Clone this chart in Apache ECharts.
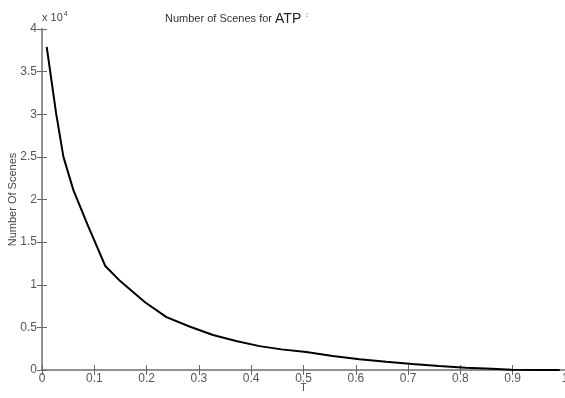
<!DOCTYPE html>
<html>
<head>
<meta charset="utf-8">
<script src="https://cdn.jsdelivr.net/npm/echarts@6/dist/echarts.min.js"></script>
<style>
  html, body { margin: 0; padding: 0; background: #fff; }
  #main { width: 565px; height: 398px; }
</style>
</head>
<body>
<div id="main"></div>
<script>
// T values and number of scenes
const tValues = [0.009, 0.027, 0.041, 0.06, 0.088, 0.10, 0.121, 0.15, 0.197, 0.238, 0.282,
  0.327, 0.371, 0.416, 0.458, 0.505, 0.556, 0.607, 0.658, 0.708, 0.759, 0.81, 0.86, 0.898, 0.955, 0.99];
const sceneCounts = [37900, 30100, 25000, 21100, 16900, 15200, 12200, 10400, 7950, 6200, 5100,
  4100, 3400, 2800, 2420, 2100, 1650, 1250, 970, 700, 470, 270, 150, 40, 0, 0];
const xTicks = [0, 0.1, 0.2, 0.3, 0.4, 0.5, 0.6, 0.7, 0.8, 0.9, 1];
const yTicks = [0, 0.5, 1, 1.5, 2, 2.5, 3, 3.5, 4];

const chart = echarts.init(document.getElementById('main'));
const font = 'Liberation Sans, Arial, sans-serif';
const axisGrey = '#8a8a8a';
const labelGrey = '#555';

const points = tValues.map((t, i) => [t, sceneCounts[i]]);

const baseX = {
  type: 'value', min: 0, max: 1, interval: 0.1,
  splitLine: { show: false },
  axisLine: { lineStyle: { color: axisGrey, width: 1.5 } },
  axisTick: { inside: true, length: 5, lineStyle: { color: '#666' } }
};
const baseY = {
  type: 'value', min: 0, max: 40000, interval: 5000,
  splitLine: { show: false },
  axisLine: { lineStyle: { color: axisGrey, width: 1.5 } },
  axisTick: { inside: true, length: 5, lineStyle: { color: '#666' } }
};

chart.setOption({
  animation: false,
  backgroundColor: '#fff',
  title: {
    text: 'Number of Scenes for {a|ATP}{c|  c}',
    left: 160, top: 7,
    textStyle: {
      fontFamily: font, fontSize: 11, fontWeight: 'normal', color: '#333',
      rich: {
        a: { fontFamily: font, fontSize: 14, color: '#222' },
        c: { fontFamily: font, fontSize: 7, color: '#bbb', verticalAlign: 'top' }
      }
    }
  },
  graphic: [{
    type: 'text', left: 42, top: 11,
    style: {
      text: 'x 10{s|4}', fontFamily: font, fontSize: 11, fill: '#444',
      rich: { s: { fontSize: 7, verticalAlign: 'top', padding: [0, 0, 7, 1] } }
    }
  }],
  grid: { left: 42, right: 0, top: 29, bottom: 28, containLabel: false, outerBoundsMode: 'none' },
  xAxis: [
    Object.assign({}, baseX, {
      position: 'bottom',
      name: 'T', nameLocation: 'middle', nameGap: 13, nameMoveOverlap: false,
      nameTextStyle: { fontFamily: font, fontSize: 10, color: '#444' },
      axisLabel: {
        fontFamily: font, fontSize: 12, color: labelGrey, margin: 3,
        formatter: v => {
          const s = xTicks.find(t => Math.abs(t - v) < 1e-6);
          return s === undefined ? '' : String(s);
        }
      }
    }),
    Object.assign({}, baseX, { position: 'top', axisLabel: { show: false } })
  ],
  yAxis: [
    Object.assign({}, baseY, {
      position: 'left',
      name: 'Number Of Scenes', nameLocation: 'middle', nameGap: 24, nameMoveOverlap: false,
      nameTextStyle: { fontFamily: font, fontSize: 11, color: '#444' },
      axisLabel: {
        fontFamily: font, fontSize: 12, color: labelGrey, margin: 5,
        formatter: v => {
          const s = yTicks.find(t => Math.abs(t * 10000 - v) < 1e-6);
          return s === undefined ? '' : String(s);
        }
      }
    }),
    Object.assign({}, baseY, { position: 'right', axisLabel: { show: false } })
  ],
  series: [{
    type: 'line',
    data: points,
    showSymbol: false,
    smooth: false,
    lineStyle: { color: '#000', width: 2 }
  }]
});
</script>
</body>
</html>
